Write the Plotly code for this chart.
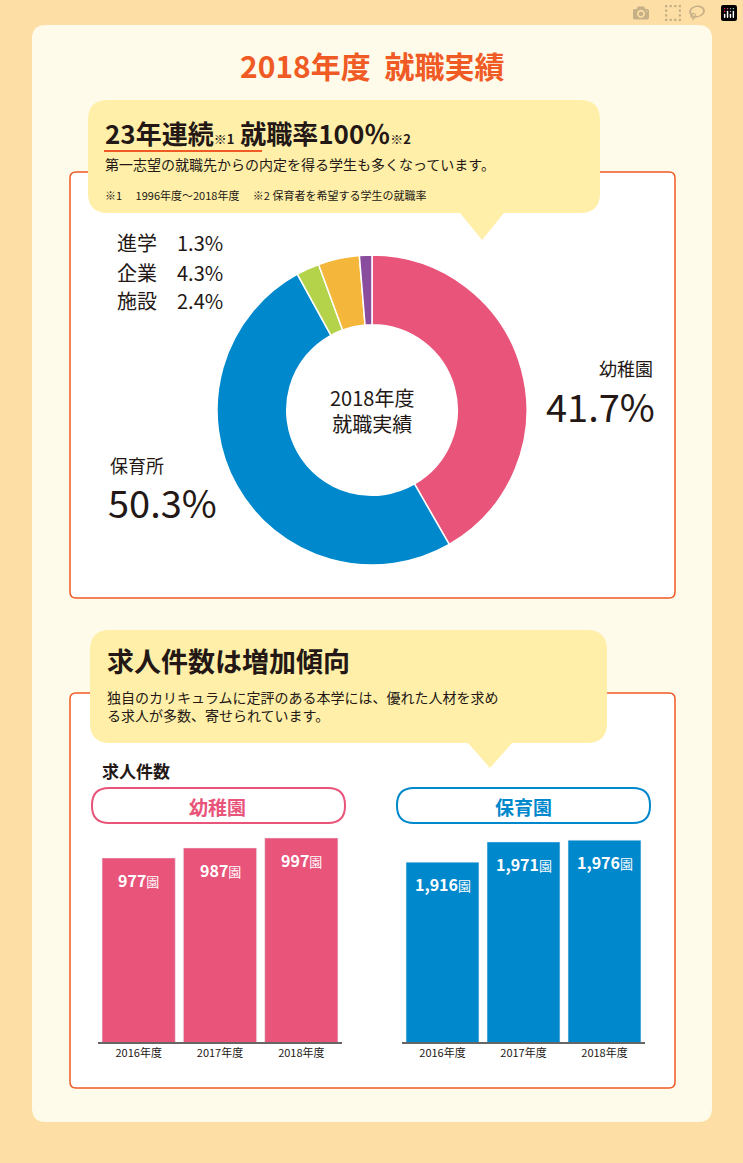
import plotly.graph_objects as go

W, H = 743, 1163

# donut data
pie_labels = ["幼稚園", "保育所", "施設", "企業", "進学"]
pie_values = [41.7, 50.3, 2.4, 4.3, 1.3]
pie_colors = ["#E8547A", "#0088CC", "#B5D34A", "#F5B73B", "#8A4D9E"]

# job offer counts
years = ["2016年度", "2017年度", "2018年度"]
kinder_counts = [977, 987, 997]
nursery_counts = [1916, 1971, 1976]

ORANGE = "#F05A24"
PINK = "#E8547A"
BLUE = "#0088CC"
DARK = "#231815"
FONT = "Noto Sans CJK JP"


def px(x, y):
    return x / W, 1 - y / H


def rrect(x0, y0, x1, y1, r):
    def p(x, y):
        a, b = px(x, y)
        return f"{a:.5f},{b:.5f}"
    return (f"M{p(x0 + r, y0)} L{p(x1 - r, y0)} Q{p(x1, y0)} {p(x1, y0 + r)} "
            f"L{p(x1, y1 - r)} Q{p(x1, y1)} {p(x1 - r, y1)} L{p(x0 + r, y1)} "
            f"Q{p(x0, y1)} {p(x0, y1 - r)} L{p(x0, y0 + r)} Q{p(x0, y0)} {p(x0 + r, y0)} Z")


def bubble(x0, y0, x1, y1, r, tx, ty, tw):
    # rounded box with a tail at bottom near tx
    def p(x, y):
        a, b = px(x, y)
        return f"{a:.5f},{b:.5f}"
    return (f"M{p(x0 + r, y0)} L{p(x1 - r, y0)} Q{p(x1, y0)} {p(x1, y0 + r)} "
            f"L{p(x1, y1 - r)} Q{p(x1, y1)} {p(x1 - r, y1)} L{p(tx + tw, y1)} L{p(tx, ty)} L{p(tx - tw, y1)} "
            f"L{p(x0 + r, y1)} Q{p(x0, y1)} {p(x0, y1 - r)} L{p(x0, y0 + r)} Q{p(x0, y0)} {p(x0 + r, y0)} Z")


shapes = [
    dict(type="path", path=rrect(32, 25, 712, 1122, 14), fillcolor="#FFFBEA", line_width=0),
    dict(type="path", path=rrect(70, 172, 675, 598, 6), fillcolor="white", line=dict(color=ORANGE, width=1.5)),
    dict(type="path", path=bubble(88, 100, 600, 213, 20, 482, 240, 22), fillcolor="#FFEFA8", line_width=0),
    dict(type="path", path=rrect(70, 693, 675, 1088, 6), fillcolor="white", line=dict(color=ORANGE, width=1.5)),
    dict(type="path", path=bubble(90, 630, 607, 743, 20, 490, 768, 22), fillcolor="#FFEFA8", line_width=0),
    dict(type="path", path=rrect(92, 788, 345, 823, 17), fillcolor="white", line=dict(color=PINK, width=2)),
    dict(type="path", path=rrect(397, 788, 650, 823, 17), fillcolor="white", line=dict(color=BLUE, width=2)),
]
ux0, uy = px(104, 151)
ux1, _ = px(262, 151)
shapes.append(dict(type="line", x0=ux0, x1=ux1, y0=uy, y1=uy, xref="paper", yref="paper",
                   line=dict(color=ORANGE, width=2)))
for s in shapes:
    s.setdefault("xref", "paper")
    s.setdefault("yref", "paper")
    s["layer"] = "below"

fig = go.Figure()

cx, cy, R = 372, 410, 155
fig.add_trace(go.Pie(
    labels=pie_labels, values=pie_values, sort=False, direction="clockwise", rotation=0,
    hole=0.55, marker=dict(colors=pie_colors, line=dict(color="white", width=1.5)),
    textinfo="none", showlegend=False,
    domain=dict(x=[(cx - R) / W, (cx + R) / W], y=[1 - (cy + R) / H, 1 - (cy - R) / H]),
))

# bars
bar_top_px, base_px = 820, 1042
ydom = [1 - base_px / H, 1 - bar_top_px / H]
fig.add_trace(go.Bar(x=years, y=kinder_counts, marker_color=PINK, width=0.9,
                     xaxis="x", yaxis="y", showlegend=False))
fig.add_trace(go.Bar(x=years, y=nursery_counts, marker_color=BLUE, width=0.9,
                     xaxis="x2", yaxis="y2", showlegend=False))

for xa, ya, vals, fmt in [("x", "y", kinder_counts, "{}"), ("x2", "y2", nursery_counts, "{:,}")]:
    for yr, v in zip(years, vals):
        fig.add_annotation(x=yr, y=v, xref=xa, yref=ya, yanchor="top", yshift=-8, showarrow=False,
                           text=f"<b>{fmt.format(v)}</b><span style='font-size:13px'>園</span>",
                           font=dict(size=16, color="white", family=FONT))

axis_common = dict(showgrid=False, zeroline=False, fixedrange=True)
xcommon = dict(axis_common, showline=True, linecolor="#666", linewidth=1.5, ticks="",
               tickfont=dict(size=11, color=DARK, family=FONT))
fig.update_layout(
    xaxis=dict(xcommon, domain=[98 / W, 342 / W], anchor="y"),
    yaxis=dict(axis_common, domain=ydom, range=[793, 1015], showticklabels=False, anchor="x"),
    xaxis2=dict(xcommon, domain=[402 / W, 645 / W], anchor="y2"),
    yaxis2=dict(axis_common, domain=ydom, range=[1425, 2031], showticklabels=False, anchor="x2"),
)


def txt(x, y, s, size, color=DARK, xanchor="left", bold=False, align=None):
    a, b = px(x, y)
    fig.add_annotation(x=a, y=b, xref="paper", yref="paper", text=f"<b>{s}</b>" if bold else s,
                       showarrow=False, xanchor=xanchor, yanchor="middle", align=align or xanchor,
                       font=dict(size=size, color=color, family=FONT))


sup = "<span style='font-size:13px'>{}</span>"
txt(372, 65, "2018年度  就職実績", 30, ORANGE, "center", True)
txt(103, 132, "23年連続" + sup.format("※1") + " 就職率100％" + sup.format("※2"), 26, DARK, bold=True)
txt(103, 164, "第一志望の就職先からの内定を得る学生も多くなっています。", 14)
txt(103, 195, "※1　 1996年度〜2018年度　 ※2 保育者を希望する学生の就職率", 11)
txt(115, 243, "進学　1.3%", 20)
txt(115, 272, "企業　4.3%", 20)
txt(115, 300, "施設　2.4%", 20)
txt(655, 368, "幼稚園", 18, DARK, "right")
txt(657, 405, "41.7%", 38, DARK, "right")
txt(108, 465, "保育所", 18)
txt(106, 501, "50.3%", 38)
txt(372, 410, "2018年度<br>就職実績", 20, DARK, "center")
txt(105, 660, "求人件数は増加傾向", 27, DARK, bold=True)
txt(105, 706, "独自のカリキュラムに定評のある本学には、優れた人材を求め<br>る求人が多数、寄せられています。", 14, align="left")
txt(100, 770, "求人件数", 17, DARK, bold=True)
txt(218, 806, "幼稚園", 19, PINK, "center", True)
txt(523, 806, "保育園", 19, BLUE, "center", True)

fig.update_layout(
    width=W, height=H, margin=dict(l=0, r=0, t=0, b=0),
    paper_bgcolor="#FDDFA5", plot_bgcolor="rgba(0,0,0,0)",
    shapes=shapes, bargap=0.1, font=dict(family=FONT),
)
fig.write_html("out.html", post_script="document.body.style.margin='0';document.body.style.overflow='hidden';")
